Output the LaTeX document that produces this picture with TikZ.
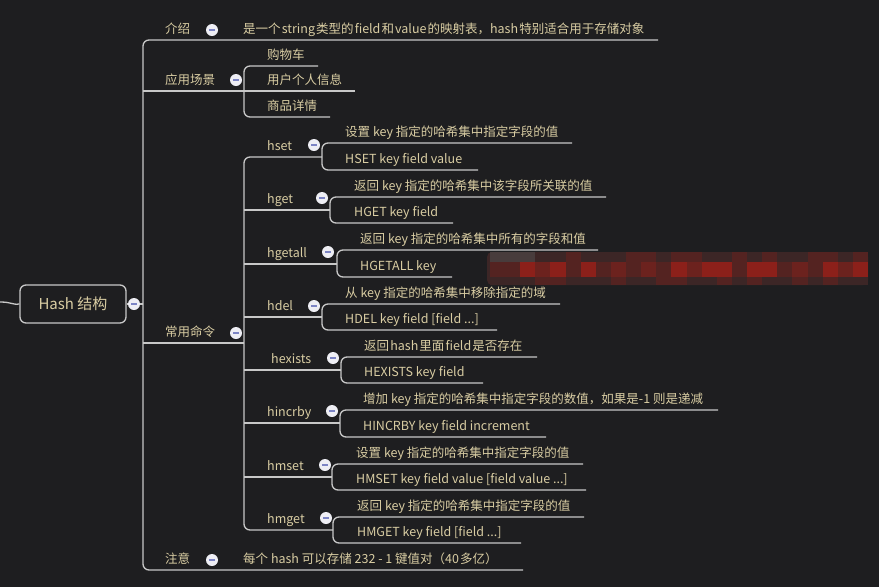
\documentclass[tikz,border=0pt]{standalone}
\usepackage{fontspec}
\setmainfont{Noto Sans CJK SC}
\definecolor{bg}{HTML}{1E1E20}
\definecolor{txt}{HTML}{D9CDA3}
\definecolor{ln}{HTML}{C8C8C8}
\definecolor{btn}{HTML}{EEEEF4}
\definecolor{btnm}{HTML}{7C84C4}
\definecolor{blurb}{RGB}{140,32,26}
\definecolor{blurm}{RGB}{108,34,30}
\definecolor{blurd}{RGB}{84,35,33}
\definecolor{blurg}{RGB}{72,60,60}
\definecolor{blure}{RGB}{60,38,38}
\newcommand{\lab}[4]{\node[lbl] (#1) at (#2,#3-6.5) {#4};}
\newcommand{\gp}{\hspace{1.1pt}}
\newcommand{\togbtn}[3]{\node[btnc] (#1) at (#2,#3) {};
  \draw[btnm,line width=1.5pt] ([xshift=-3pt]#1.center) -- ([xshift=3pt]#1.center);}
\begin{document}
\begin{tikzpicture}[x=1pt,y=-1pt,
  lbl/.style={anchor=base west,inner sep=0pt,text=txt,font=\fontsize{12.5}{14}\selectfont},
  conn/.style={draw=ln,line width=1.3pt,rounded corners=6pt},
  btnc/.style={circle,fill=btn,minimum size=12pt,inner sep=0pt},
  rootbox/.style={draw=ln,line width=1.3pt,rounded corners=6pt,minimum width=106pt,minimum height=38pt,text=txt,font=\fontsize{15}{18}\selectfont,inner sep=0pt}]
\fill[bg] (0,0) rectangle (879,587);
\useasboundingbox (0,0) rectangle (879,587);

% blurred region
\fill[blure,rounded corners=5pt] (487,252) rectangle (868,285);
\foreach \c [count=\i from 0] in {g,g,g,e,e,d,e,e,e,d,d,e,d,d,e,e,d,e,d,e,e,d,d,e,d} {
  \fill[blur\c] (490+\i*15.12,252) rectangle ++(15.12,10);}
\foreach \c [count=\i from 0] in {d,d,b,m,b,d,b,d,m,d,m,d,b,m,b,b,d,b,b,d,m,d,b,m,b} {
  \fill[blur\c] (490+\i*15.12,262) rectangle ++(15.12,15);}
\foreach \c [count=\i from 0] in {e,e,e,d,d,e,e,e,d,e,e,d,d,e,e,d,e,d,e,e,d,e,d,e,e} {
  \fill[blur\c] (490+\i*15.12,277) rectangle ++(15.12,8);}

% root
\node[rootbox] (root) at (73,304) {Hash 结构};
\coordinate (lstub) at (0,302);
\coordinate (trunkR) at (143,304);

% coordinates
\coordinate (introR) at (658,40);
\coordinate (trT) at (143,40);
\coordinate (trB) at (143,570);
\coordinate (noteR) at (523,570);
\coordinate (appL) at (143,91);
\coordinate (appR) at (355,91);
\coordinate (shopR) at (318,66);
\coordinate (shopL) at (244,66);
\coordinate (goodsL) at (244,117);
\coordinate (goodsR) at (330,117);
\coordinate (cmdL) at (143,343);
\coordinate (cmdR) at (244,343);
\coordinate (hsetL) at (244,157);
\coordinate (hsetR) at (322,157);
\coordinate (hmgetL) at (244,530);
\coordinate (hmgetR) at (333,530);

% connectors
\draw[conn] (lstub) .. controls (12,302) and (12,305) .. (root.west);
\draw[conn] (root.east) -- (trunkR);
\draw[conn] (introR) -- (trT) -- (trB) -- (noteR);
\draw[conn] (appL) -- (appR);
\draw[conn] (shopR) -- (shopL) -- (goodsL) -- (goodsR);
\draw[conn] (cmdL) -- (cmdR);
\draw[conn] (hsetR) -- (hsetL) -- (hmgetL) -- (hmgetR);
\foreach \n/\y/\x in {hget/210/330,hgetall/264/337,hdel/317/322,hexists/370/341,hincrby/423/340,hmset/477/332} {
  \coordinate (\n L) at (244,\y);
  \coordinate (\n R) at (\x,\y);
  \draw[conn] (\n L) -- (\n R);}
\foreach \n/\vx/\ya/\xa/\yb/\xb in {
  hset/322/143/572/170/478,
  hget/330/197/606/223/453,
  hgetall/337/250/598/277/452,
  hdel/322/304/560/330/497,
  hexists/341/357/537/383/483,
  hincrby/340/410/718/437/546,
  hmset/332/464/583/490/586,
  hmget/333/517/584/543/521} {
  \coordinate (\n c1R) at (\xa,\ya);
  \coordinate (\n c1L) at (\vx,\ya);
  \coordinate (\n c2L) at (\vx,\yb);
  \coordinate (\n c2R) at (\xb,\yb);
  \draw[conn] (\n c1R) -- (\n c1L) -- (\n c2L) -- (\n c2R);}

% texts
\lab{intro}{165}{40}{介绍}
\lab{introc}{243}{40}{是一个\gp string\gp 类型的\gp field\gp 和\gp value\gp 的映射表，hash\gp 特别适合用于存储对象}
\lab{app}{165}{91}{应用场景}
\lab{shop}{267}{66}{购物车}
\lab{user}{267}{91}{用户个人信息}
\lab{goods}{267}{117}{商品详情}
\lab{cmd}{165}{343}{常用命令}
\lab{thset}{267}{157}{hset}
\lab{thset1}{345}{143}{设置 key 指定的哈希集中指定字段的值}
\lab{thset2}{345}{170}{HSET key field value}
\lab{thget}{267}{210}{hget}
\lab{thget1}{354}{197}{返回 key 指定的哈希集中该字段所关联的值}
\lab{thget2}{354}{223}{HGET key field}
\lab{thgetall}{267}{264}{hgetall}
\lab{thgetall1}{360}{250}{返回 key 指定的哈希集中所有的字段和值}
\lab{thgetall2}{360}{277}{HGETALL key}
\lab{thdel}{267}{317}{hdel}
\lab{thdel1}{345}{304}{从 key 指定的哈希集中移除指定的域}
\lab{thdel2}{345}{330}{HDEL key field [field ...]}
\lab{thexists}{271}{370}{hexists}
\lab{thexists1}{364}{357}{返回\gp hash\gp 里面\gp field\gp 是否存在}
\lab{thexists2}{364}{383}{HEXISTS key field}
\lab{thincrby}{267}{423}{hincrby}
\lab{thincrby1}{363}{410}{增加 key 指定的哈希集中指定字段的数值，如果是-1 则是递减}
\lab{thincrby2}{363}{437}{HINCRBY key field increment}
\lab{thmset}{267}{477}{hmset}
\lab{thmset1}{356}{464}{设置 key 指定的哈希集中指定字段的值}
\lab{thmset2}{356}{490}{HMSET key field value [field value ...]}
\lab{thmget}{267}{530}{hmget}
\lab{thmget1}{357}{517}{返回 key 指定的哈希集中指定字段的值}
\lab{thmget2}{357}{543}{HMGET key field [field ...]}
\lab{note}{165}{570}{注意}
\lab{notec}{243}{570}{每个 hash 可以存储 232 - 1 键值对（40\gp 多亿）}

% toggle buttons
\togbtn{broot}{134}{304}
\togbtn{bintro}{212}{30}
\togbtn{bapp}{236}{80}
\togbtn{bcmd}{236}{333}
\togbtn{bnote}{212}{560}
\togbtn{bhset}{314}{145}
\togbtn{bhget}{322}{198}
\togbtn{bhgetall}{328}{252}
\togbtn{bhdel}{314}{306}
\togbtn{bhexists}{333}{358}
\togbtn{bhincrby}{332}{411}
\togbtn{bhmset}{325}{465}
\togbtn{bhmget}{326}{518}
\end{tikzpicture}
\end{document}
